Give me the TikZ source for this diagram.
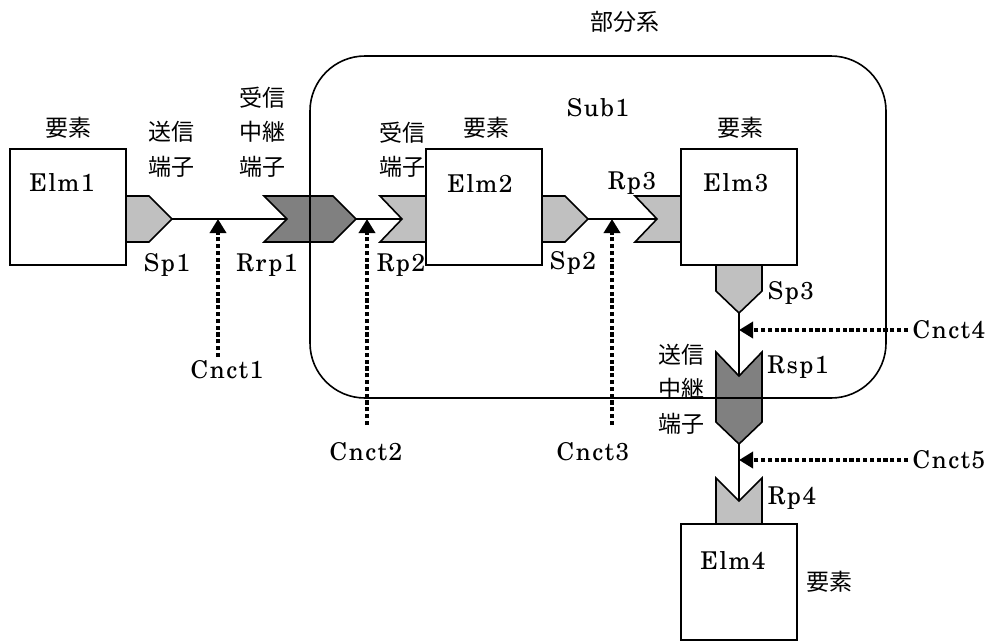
\documentclass[tikz,border=0pt]{standalone}
\usepackage{fontspec}
\setmainfont{texgyreschola-regular}[Extension=.otf, LetterSpace=6]
\newfontfamily\jp{Noto Sans CJK JP}
\usetikzlibrary{arrows.meta}
\definecolor{lightport}{HTML}{C0C0C0}
\definecolor{darkport}{HTML}{808080}
\begin{document}
\begin{tikzpicture}[x=1pt,y=-1pt,
  elm/.style={draw, line width=1.6pt, fill=white, minimum width=116pt, minimum height=116pt, inner sep=0pt},
  portA/.style={draw, line width=1.6pt, fill=lightport, line join=miter},
  portB/.style={draw, line width=1.6pt, fill=darkport, line join=miter},
  conn/.style={line width=1.6pt},
  cnct/.style={line width=4.4pt, dash pattern=on 4.2pt off 2.6pt, -{Triangle[width=16pt,length=14pt]}},
  lat/.style={font=\fontsize{24.5}{28}\selectfont, inner sep=0pt},
  jpt/.style={font=\jp\fontsize{23}{34.5}\selectfont, inner sep=0pt, align=center}]
\useasboundingbox (0,0) rectangle (987,641);

% ports
\draw[portA] (126,196) -- (149,196) -- (172,219) -- (149,242) -- (126,242) -- cycle;
\draw[portB] (264,196) -- (333,196) -- (356,219) -- (333,242) -- (264,242) -- (287,219) -- cycle;
\draw[portA] (380,196) -- (426,196) -- (426,242) -- (380,242) -- (402,219) -- cycle;
\draw[portA] (542,196) -- (565,196) -- (588,219) -- (565,242) -- (542,242) -- cycle;
\draw[portA] (635,196) -- (681,196) -- (681,242) -- (635,242) -- (657,219) -- cycle;
\draw[portA] (716,265) -- (762,265) -- (762,291) -- (739,313) -- (716,291) -- cycle;
\draw[portB] (716,352) -- (739,376) -- (762,352) -- (762,422) -- (739,444) -- (716,422) -- cycle;
\draw[portA] (716,478) -- (739,501) -- (762,478) -- (762,524) -- (716,524) -- cycle;

\coordinate (sp1) at (172,219);
\coordinate (rrp1in) at (287,219);
\coordinate (rrp1out) at (356,219);
\coordinate (rp2) at (402,219);
\coordinate (sp2) at (588,219);
\coordinate (rp3) at (657,219);
\coordinate (sp3) at (739,313);
\coordinate (rsp1in) at (739,376);
\coordinate (rsp1out) at (739,444);
\coordinate (rp4) at (739,501);

% elements
\node[elm] (elm1) at (68,207) {};
\node[elm] (elm2) at (484,207) {};
\node[elm] (elm3) at (739,207) {};
\node[elm] (elm4) at (739,582) {};

% connectors
\draw[conn] (sp1) -- (rrp1in);
\draw[conn] (rrp1out) -- (rp2);
\draw[conn] (sp2) -- (rp3);
\draw[conn] (sp3) -- (rsp1in);
\draw[conn] (rsp1out) -- (rp4);

% subsystem
\node[draw, line width=1.6pt, rounded corners=55pt, minimum width=576pt, minimum height=342pt, inner sep=0pt] (sub1) at (598,227) {};

% connection arrows
\coordinate (c1s) at (218,357);  \coordinate (c1e) at (218,219);
\coordinate (c2s) at (367,425);  \coordinate (c2e) at (367,219);
\coordinate (c3s) at (612,425);  \coordinate (c3e) at (612,219);
\coordinate (c4s) at (908,330);  \coordinate (c4e) at (739,330);
\coordinate (c5s) at (908,460);  \coordinate (c5e) at (739,460);
\draw[cnct] (c1s) -- (c1e);
\draw[cnct] (c2s) -- (c2e);
\draw[cnct] (c3s) -- (c3e);
\draw[cnct] (c4s) -- (c4e);
\draw[cnct] (c5s) -- (c5e);

% texts
\node[jpt] (t_bubun) at (625,22) {部分系};
\node[lat] (t_sub1) at (598,108) {Sub1};
\node[jpt] (t_yo1) at (68,128) {要素};
\node[jpt] (t_yo2) at (486,128) {要素};
\node[jpt] (t_yo3) at (740,128) {要素};
\node[jpt] (t_yo4) at (829,582) {要素};
\node[jpt] (t_sou) at (171,149.5) {送信\\端子};
\node[jpt] (t_juchu) at (262,132) {受信\\中継\\端子};
\node[jpt] (t_ju) at (402,149.5) {受信\\端子};
\node[jpt] (t_souchu) at (681,389) {送信\\中継\\端子};
\node[lat] (t_elm1) at (62,182) {Elm1};
\node[lat] (t_elm2) at (480,183) {Elm2};
\node[lat] (t_elm3) at (736,183) {Elm3};
\node[lat] (t_elm4) at (733,560) {Elm4};
\node[lat] (t_sp1) at (167,265) {Sp1};
\node[lat] (t_rrp1) at (267,265) {Rrp1};
\node[lat] (t_rp2) at (401,265) {Rp2};
\node[lat] (t_sp2) at (573,263) {Sp2};
\node[lat] (t_rp3) at (632,183) {Rp3};
\node[lat] (t_sp3) at (791,293) {Sp3};
\node[lat] (t_rsp1) at (798,367) {Rsp1};
\node[lat] (t_rp4) at (792,498) {Rp4};
\node[lat] (t_c1) at (227,370) {Cnct1};
\node[lat] (t_c2) at (366,452) {Cnct2};
\node[lat] (t_c3) at (593,452) {Cnct3};
\node[lat] (t_c4) at (949,330) {Cnct4};
\node[lat] (t_c5) at (949,460) {Cnct5};
\end{tikzpicture}
\end{document}
